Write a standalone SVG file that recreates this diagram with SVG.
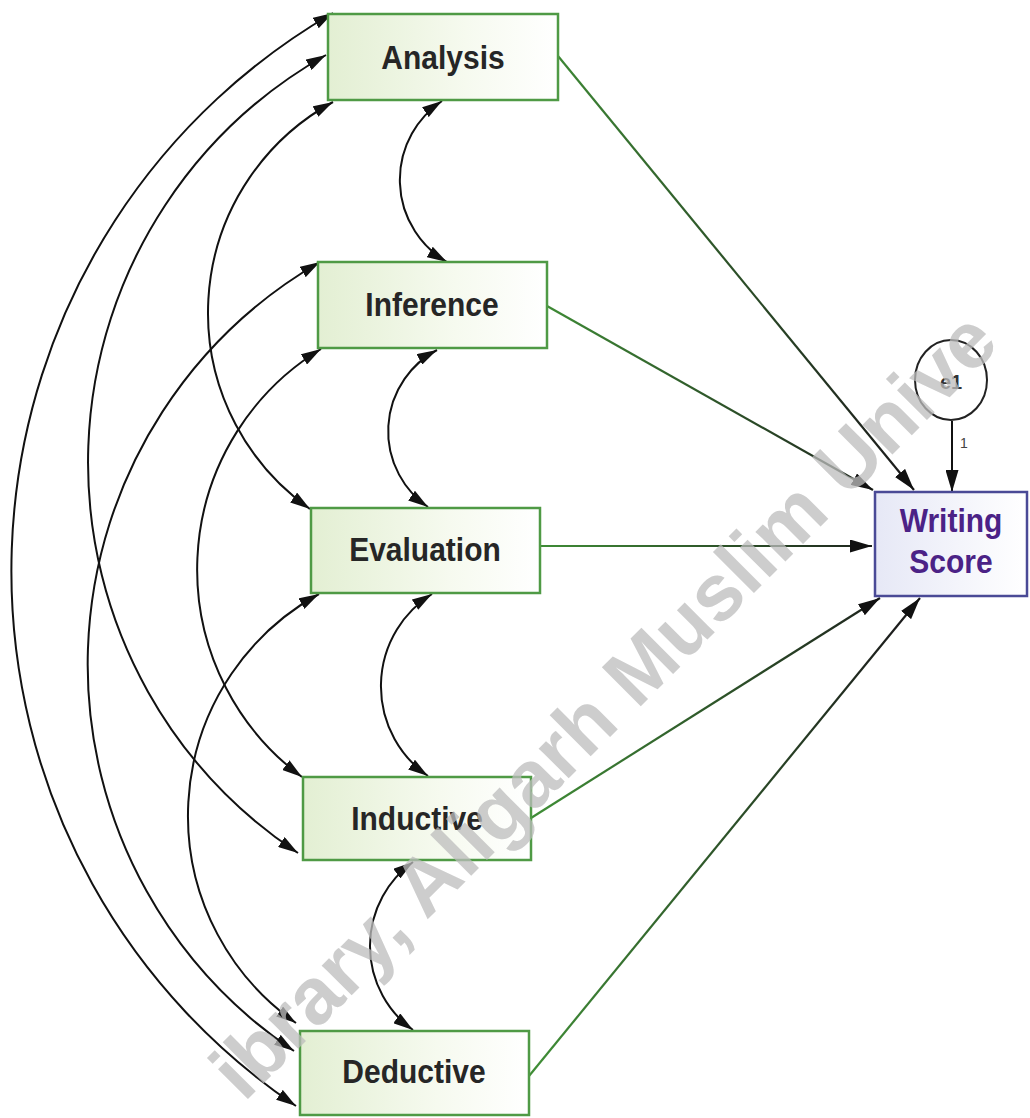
<svg xmlns="http://www.w3.org/2000/svg" width="1030" height="1118" viewBox="0 0 1030 1118">
<style>
.box{stroke:#4f9a45;stroke-width:2.5;fill:url(#gfill)}
.ws{stroke:#4a4a96;stroke-width:2.5;fill:url(#bfill)}
.lbl{font-family:"Liberation Sans",Arial,sans-serif;font-weight:bold;font-size:30px;fill:#262626;text-anchor:middle}
.wlbl{font-family:"Liberation Sans",Arial,sans-serif;font-weight:bold;font-size:30px;fill:#4b2286;text-anchor:middle}
.cov{fill:none;stroke:#111;stroke-width:2;marker-start:url(#ah);marker-end:url(#ah)}
.path{fill:none;stroke:url(#gline);stroke-width:2.2;marker-end:url(#ah2)}
.wm{font-family:"Liberation Sans",Arial,sans-serif;font-weight:bold;font-size:80px;fill:#bdbdbd;opacity:0.75}
</style>
<defs>
<linearGradient id="gfill" x1="0" y1="0" x2="1" y2="0">
<stop offset="0" stop-color="#e3efd3"/>
<stop offset="0.6" stop-color="#f6faef"/>
<stop offset="1" stop-color="#ffffff"/>
</linearGradient>
<linearGradient id="bfill" x1="0" y1="0" x2="1" y2="0">
<stop offset="0" stop-color="#e6e8f6"/>
<stop offset="1" stop-color="#ffffff"/>
</linearGradient>
<linearGradient id="gline" gradientUnits="userSpaceOnUse" x1="540" y1="0" x2="900" y2="0">
<stop offset="0" stop-color="#3f8c36"/>
<stop offset="1" stop-color="#1c1c1c"/>
</linearGradient>
<marker id="ah" viewBox="0 0 20 12" refX="20" refY="6" markerWidth="20" markerHeight="12" markerUnits="userSpaceOnUse" orient="auto-start-reverse">
<path d="M0,0 L20,6 L0,12 Z" fill="#111"/>
</marker>
<marker id="ah2" viewBox="0 0 22 13" refX="22" refY="6.5" markerWidth="22" markerHeight="13" markerUnits="userSpaceOnUse" orient="auto">
<path d="M0,0 L22,6.5 L0,13 Z" fill="#111"/>
</marker>
</defs>
<rect width="1030" height="1118" fill="#ffffff"/>

<g id="connectors">
<path class="path" d="M558,56 L914,490"/>
<path class="path" d="M547,306 L873,490"/>
<path class="path" d="M540,546 L872,546"/>
<path class="path" d="M531,818 L880,598"/>
<path class="path" d="M529,1076 L920,598"/>
<path d="M952,421 L952,492" fill="none" stroke="#111" stroke-width="2" marker-end="url(#ah2)"/>
<text x="964" y="448" font-family="Liberation Sans, Arial, sans-serif" font-size="14" fill="#444" text-anchor="middle">1</text>
<path class="cov" d="M442,101 A95,95 0 0 0 447,262"/>
<path class="cov" d="M437,350 A92,92 0 0 0 428,507"/>
<path class="cov" d="M432,594 A109,109 0 0 0 428,776"/>
<path class="cov" d="M413,862 A103.5,103.5 0 0 0 413,1030"/>
<path class="cov" d="M333,102 A240,240 0 0 0 310,509"/>
<path class="cov" d="M321,349 A258,258 0 0 0 302,777"/>
<path class="cov" d="M319,594 A253,253 0 0 0 296,1023"/>
<path class="cov" d="M333,13 A645,645 0 0 0 296,1106"/>
<path class="cov" d="M326,55 A468,468 0 0 0 298,853"/>
<path class="cov" d="M320,262 A465,465 0 0 0 294,1051"/>
</g>

<g id="analysis">
<rect class="box" x="328" y="14" width="230" height="86"/>
<text class="lbl" transform="translate(443,69) scale(1,1.12)">Analysis</text>
</g>
<g id="inference">
<rect class="box" x="318" y="262" width="229" height="86"/>
<text class="lbl" transform="translate(432,316) scale(1,1.12)">Inference</text>
</g>
<g id="evaluation">
<rect class="box" x="311" y="508" width="229" height="85"/>
<text class="lbl" transform="translate(425,561) scale(1,1.12)">Evaluation</text>
</g>
<g id="inductive">
<rect class="box" x="303" y="777" width="228" height="83"/>
<text class="lbl" transform="translate(417,830) scale(1,1.12)">Inductive</text>
</g>
<g id="deductive">
<rect class="box" x="300" y="1031" width="229" height="84"/>
<text class="lbl" transform="translate(414,1083) scale(1,1.12)">Deductive</text>
</g>
<g id="writing-score">
<rect class="ws" x="875" y="492" width="152" height="104"/>
<text class="wlbl" transform="translate(951,532) scale(1,1.12)">Writing</text>
<text class="wlbl" transform="translate(951,573) scale(1,1.12)">Score</text>
</g>
<g id="e1">
<ellipse cx="951" cy="380" rx="36" ry="40" fill="#ffffff" stroke="#222" stroke-width="2"/>
<text x="951" y="389" font-family="Liberation Sans, Arial, sans-serif" font-size="20" font-weight="bold" fill="#333" text-anchor="middle">e1</text>
</g>

<text class="wm" transform="translate(244,1103) rotate(-45)">ibrary, Aligarh Muslim Unive</text>
</svg>
